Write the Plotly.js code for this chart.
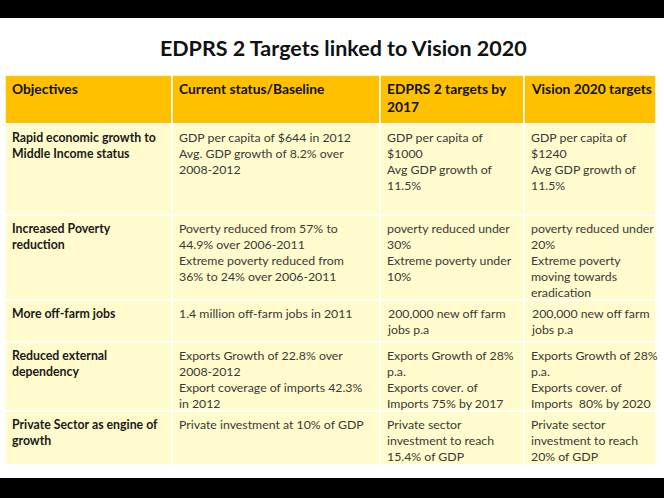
<!DOCTYPE html>
<html>
<head>
<meta charset="utf-8">
<script src="https://cdn.plot.ly/plotly-3.0.1.min.js"></script>
<style>html,body{margin:0;padding:0;background:#fff;}#chart{width:664px;height:498px;}</style>
</head>
<body>
<div id="chart"></div>
<script>
// ---- data ----
var headers = ["Objectives", "Current status/Baseline", "EDPRS 2 targets by<br>2017", "Vision 2020 targets"];
var objectives = [
  "Rapid economic growth to<br>Middle Income status",
  "Increased Poverty<br>reduction",
  "More off-farm jobs",
  "Reduced external<br>dependency",
  "Private Sector as engine of<br>growth"
];
var baseline = [
  "GDP per capita of $644 in 2012<br>Avg. GDP growth of 8.2% over<br>2008-2012",
  "Poverty reduced from 57% to<br>44.9% over 2006-2011<br>Extreme poverty reduced from<br>36% to 24% over 2006-2011",
  "1.4 million off-farm jobs in 2011",
  "Exports Growth of 22.8% over<br>2008-2012<br>Export coverage of imports 42.3%<br>in 2012",
  "Private investment at 10% of GDP"
];
var edprs2017 = [
  "GDP per capita of<br>$1000<br>Avg GDP growth of<br>11.5%",
  "poverty reduced under<br>30%<br>Extreme poverty under<br>10%",
  "200,000 new off farm<br>jobs p.a",
  "Exports Growth of 28%<br>p.a.<br>Exports cover. of<br>Imports 75% by 2017",
  "Private sector<br>investment to reach<br>15.4% of GDP"
];
var vision2020 = [
  "GDP per capita of<br>$1240<br>Avg GDP growth of<br>11.5%",
  "poverty reduced under<br>20%<br>Extreme poverty<br>moving towards<br>eradication",
  "200,000 new off farm<br>jobs p.a",
  "Exports Growth of 28%<br>p.a.<br>Exports cover. of<br>Imports&#160;&#160;80% by 2020",
  "Private sector<br>investment to reach<br>20% of GDP"
];
var titleText = "EDPRS 2 Targets linked to Vision 2020";

// ---- layout geometry (pixels) ----
var colEdges = [5, 172, 380, 524, 656];
var rowEdges = [75, 124, 215, 300, 342, 411, 465];
var headerColor = "#FFC000";
var rowColor = "#FFFBCC";
var FONT = "Lato, 'Open Sans', sans-serif";

var columns = [objectives, baseline, edprs2017, vision2020];
var shapes = [];
var annotations = [];

// black bands
shapes.push({type:"rect", xref:"x", yref:"y", x0:0, x1:664, y0:0, y1:18, fillcolor:"#000", line:{width:0}, layer:"below"});
shapes.push({type:"rect", xref:"x", yref:"y", x0:0, x1:664, y0:478, y1:498, fillcolor:"#000", line:{width:0}, layer:"below"});

for (var r = 0; r < rowEdges.length - 1; r++) {
  for (var c = 0; c < 4; c++) {
    shapes.push({
      type:"rect", xref:"x", yref:"y",
      x0: colEdges[c], x1: colEdges[c+1], y0: rowEdges[r], y1: rowEdges[r+1],
      fillcolor: r === 0 ? headerColor : rowColor,
      line:{color:"#ffffff", width:1.5}, layer:"below"
    });
    var txt = r === 0 ? headers[c] : columns[c][r-1];
    var bold = (r === 0 || c === 0);
    annotations.push({
      xref:"x", yref:"y", x: colEdges[c] + 5, y: rowEdges[r] + (r === 0 ? 3 : 4),
      xanchor:"left", yanchor:"top", align:"left", showarrow:false,
      text: bold ? "<b>" + txt + "</b>" : txt,
      font:{family:FONT, size: r === 0 ? 13.8 : 12.3, color: r === 0 ? "#111111" : (bold ? "#1a1a1a" : "#3a3a3a")}
    });
  }
}

var layout = {
  width:664, height:498,
  margin:{l:0, r:0, t:0, b:0},
  paper_bgcolor:"#ffffff", plot_bgcolor:"#ffffff",
  showlegend:false,
  title:{text:"<b>" + titleText + "</b>", x:0.517, xanchor:"center", y:1 - 48/498, yanchor:"middle",
         font:{family:FONT, size:21.5, color:"#111111"}},
  xaxis:{range:[0,664], visible:false, fixedrange:true},
  yaxis:{range:[498,0], visible:false, fixedrange:true},
  shapes:shapes,
  annotations:annotations
};

Plotly.newPlot("chart", [{x:[0], y:[0], type:"scatter", mode:"markers", marker:{opacity:0}, hoverinfo:"skip"}], layout, {displayModeBar:false, staticPlot:true});
</script>
</body>
</html>
